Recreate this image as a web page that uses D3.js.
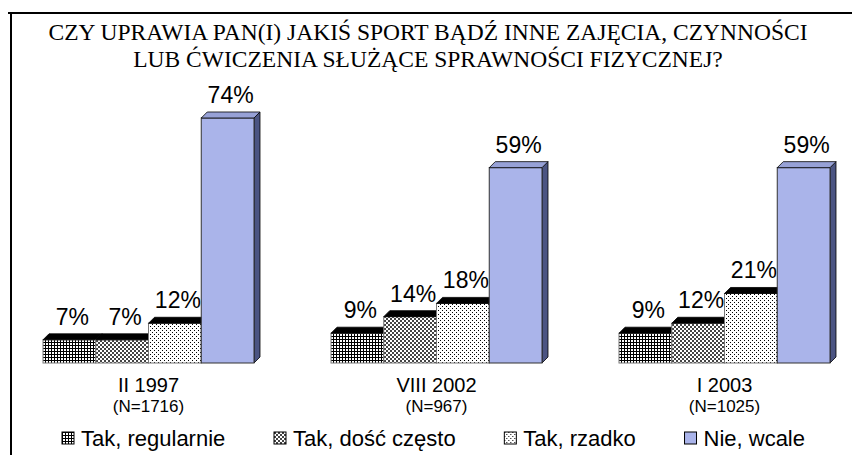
<!DOCTYPE html>
<html><head><meta charset="utf-8">
<script src="https://cdn.jsdelivr.net/npm/d3@7"></script>
<style>body{margin:0;background:#fff}svg{display:block}
.sans{font-family:Arial,"Liberation Sans",sans-serif}
.serif{font-family:"Times New Roman","Liberation Serif",serif}
</style>
</head><body>
<svg id="c" width="852" height="455"></svg>
<script>
const titleLines = ["CZY UPRAWIA PAN(I) JAKIŚ SPORT BĄDŹ INNE ZAJĘCIA, CZYNNOŚCI", "LUB ĆWICZENIA SŁUŻĄCE SPRAWNOŚCI FIZYCZNEJ?"];
const categories = ["II 1997", "VIII 2002", "I 2003"];
const sampleSizes = ["(N=1716)", "(N=967)", "(N=1025)"];
const seriesNames = ["Tak, regularnie", "Tak, dość często", "Tak, rzadko", "Nie, wcale"];
const regularnie = [7, 9, 9];
const doscCzesto = [7, 14, 12];
const rzadko = [12, 18, 21];
const nieWcale = [74, 59, 59];
const seriesValues = [regularnie, doscCzesto, rzadko, nieWcale];

const svg = d3.select("#c");
const defs = svg.append("defs");
const pGrid = defs.append("pattern").attr("id","pGrid").attr("width",3).attr("height",3).attr("patternUnits","userSpaceOnUse");
pGrid.append("rect").attr("width",3).attr("height",3).attr("fill","#fff");
pGrid.append("rect").attr("width",1).attr("height",3).attr("fill","#000");
pGrid.append("rect").attr("width",3).attr("height",1).attr("fill","#000");
const pCheck = defs.append("pattern").attr("id","pCheck").attr("width",4).attr("height",4).attr("patternUnits","userSpaceOnUse");
pCheck.append("rect").attr("width",4).attr("height",4).attr("fill","#fff");
pCheck.append("rect").attr("width",2).attr("height",2).attr("fill","#444");
pCheck.append("rect").attr("x",2).attr("y",2).attr("width",2).attr("height",2).attr("fill","#444");
const pDots = defs.append("pattern").attr("id","pDots").attr("width",4).attr("height",4).attr("patternUnits","userSpaceOnUse");
pDots.append("rect").attr("width",4).attr("height",4).attr("fill","#fff");
pDots.append("rect").attr("width",1).attr("height",1).attr("fill","#000");
pDots.append("rect").attr("x",2).attr("y",2).attr("width",1).attr("height",1).attr("fill","#000");

const fronts = ["url(#pGrid)","url(#pCheck)","url(#pDots)","#aab4ea"];
const tops = ["#000","#000","#000","#97a1d6"];
const sides = ["#222","#222","#222","#4b5482"];

svg.append("line").attr("x1",8).attr("x2",852).attr("y1",13).attr("y2",13).attr("stroke","#000").attr("stroke-width",2);
svg.append("line").attr("x1",11).attr("x2",11).attr("y1",12).attr("y2",455).attr("stroke","#000").attr("stroke-width",2);

svg.append("g").selectAll("text").data(titleLines).join("text")
  .attr("class","serif")
  .attr("x",428).attr("y",(d,i)=>40+i*27)
  .attr("text-anchor","middle").attr("font-size",23.5).attr("fill","#000").text(d=>d);

const x0 = d3.scaleBand().domain(categories).range([4.5,868.5]).paddingInner(77/288).paddingOuter(38.5/288);
const x1 = d3.scaleBand().domain(d3.range(seriesNames.length)).range([0,x0.bandwidth()]);
const y = d3.scaleLinear().domain([0,100]).range([363, 363-331.1]);
const dx = 6, dy = 6;

const g = svg.append("g");
categories.forEach((cat, ci) => {
  seriesNames.forEach((s, si) => {
    const v = seriesValues[si][ci];
    const xl = x0(cat) + x1(si), xr = xl + x1.bandwidth();
    const yt = y(v), yb = y(0);
    g.append("path").attr("d",`M${xr},${yt}L${xr+dx},${yt-dy}L${xr+dx},${yb-dy}L${xr},${yb}Z`)
      .attr("fill",sides[si]).attr("stroke","#000").attr("stroke-width",0.8);
    g.append("rect").attr("x",xl).attr("y",yt).attr("width",xr-xl).attr("height",yb-yt)
      .attr("fill",fronts[si]).attr("stroke", si===3?"#333":"#777").attr("stroke-width",1);
    g.append("path").attr("d",`M${xl},${yt}L${xl+dx},${yt-dy}L${xr+dx},${yt-dy}L${xr},${yt}Z`)
      .attr("fill",tops[si]).attr("stroke","#000").attr("stroke-width",0.8);
  });
  seriesNames.forEach((s, si) => {
    const v = seriesValues[si][ci];
    const xc = x0(cat) + x1(si) + x1.bandwidth()/2 + dx/2;
    g.append("text").attr("class","sans").attr("x",xc).attr("y",y(v)-dy-9).attr("text-anchor","middle")
      .attr("font-size",23).text(v+"%");
  });
  const cx = x0(cat) + x0.bandwidth()/2;
  g.append("text").attr("class","sans").attr("x",cx).attr("y",392).attr("text-anchor","middle")
    .attr("font-size",20).text(cat);
  g.append("text").attr("class","sans").attr("x",cx).attr("y",412).attr("text-anchor","middle")
    .attr("font-size",17).text(sampleSizes[ci]);
});

const legendStart = 62, legendEnd = 805;
const lg = svg.append("g");
const items = seriesNames.map((s, si) => {
  const it = lg.append("g");
  it.append("rect").attr("x",0).attr("y",432).attr("width",12).attr("height",12)
    .attr("fill",fronts[si]).attr("stroke","#000").attr("stroke-width",1);
  const t = it.append("text").attr("class","sans").attr("x",19).attr("y",446)
    .attr("font-size",22).text(s);
  return {it, w: 19 + t.node().getComputedTextLength()};
});
const totalW = d3.sum(items, d => d.w);
const gap = (legendEnd - legendStart - totalW) / (items.length - 1);
let cur = legendStart;
items.forEach(d => { d.it.attr("transform", `translate(${cur},0)`); cur += d.w + gap; });
</script>
</body></html>
